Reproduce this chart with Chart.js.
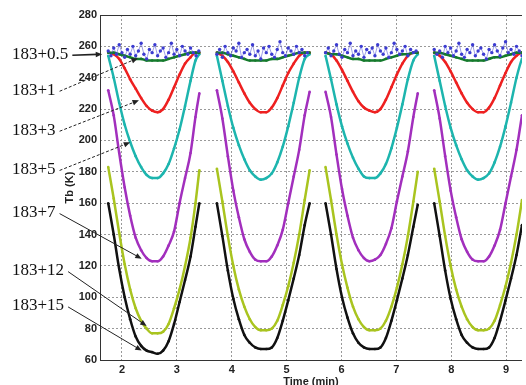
<!DOCTYPE html>
<html>
<head>
<meta charset="utf-8">
<script src="https://cdn.jsdelivr.net/npm/chart.js@4.4.0/dist/chart.umd.min.js"></script>
<style>
  html, body { margin: 0; padding: 0; background: #fff; }
  #wrap { width: 526px; height: 385px; position: relative; }
</style>
</head>
<body>
<div id="wrap"><canvas id="tbChart"></canvas></div>
<script>
// Tiempos de muestreo (min) de los cuatro barridos
const scanTimes = [
  [1.75, 1.85, 1.95, 2.05, 2.15, 2.25, 2.35, 2.45, 2.55, 2.65, 2.75, 2.85, 2.95, 3.05, 3.15, 3.25, 3.34, 3.41],
  [3.73, 3.83, 3.93, 4.03, 4.13, 4.23, 4.33, 4.43, 4.53, 4.63, 4.73, 4.83, 4.93, 5.03, 5.13, 5.23, 5.33, 5.42],
  [5.71, 5.81, 5.91, 6.01, 6.11, 6.21, 6.31, 6.41, 6.51, 6.61, 6.71, 6.81, 6.91, 7.01, 7.11, 7.21, 7.31, 7.39],
  [7.69, 7.79, 7.89, 7.99, 8.09, 8.19, 8.29, 8.39, 8.49, 8.59, 8.69, 8.79, 8.89, 8.99, 9.09, 9.19, 9.29, 9.37]
];
// Tiempos más densos para el canal ruidoso 183+0.5
const noisyTimes = [
  [1.75, 1.80, 1.85, 1.90, 1.95, 2.00, 2.05, 2.10, 2.15, 2.20, 2.25, 2.30, 2.35, 2.40, 2.45, 2.50, 2.55, 2.60, 2.65, 2.70, 2.75, 2.80, 2.85, 2.90, 2.95, 3.00, 3.05, 3.10, 3.15, 3.20, 3.25, 3.30, 3.35, 3.40],
  [3.73, 3.78, 3.83, 3.88, 3.93, 3.98, 4.03, 4.08, 4.13, 4.18, 4.23, 4.28, 4.33, 4.38, 4.43, 4.48, 4.53, 4.58, 4.63, 4.68, 4.73, 4.78, 4.83, 4.88, 4.93, 4.98, 5.03, 5.08, 5.13, 5.18, 5.23, 5.28, 5.33, 5.38],
  [5.71, 5.76, 5.81, 5.86, 5.91, 5.96, 6.01, 6.06, 6.11, 6.16, 6.21, 6.26, 6.31, 6.36, 6.41, 6.46, 6.51, 6.56, 6.61, 6.66, 6.71, 6.76, 6.81, 6.86, 6.91, 6.96, 7.01, 7.06, 7.11, 7.16, 7.21, 7.26, 7.31, 7.36],
  [7.69, 7.74, 7.79, 7.84, 7.89, 7.94, 7.99, 8.04, 8.09, 8.14, 8.19, 8.24, 8.29, 8.34, 8.39, 8.44, 8.49, 8.54, 8.59, 8.64, 8.69, 8.74, 8.79, 8.84, 8.89, 8.94, 8.99, 9.04, 9.09, 9.14, 9.19, 9.24, 9.29, 9.34]
];

// Temperaturas de brillo (K) por canal y barrido
const tb05 = [
  [257, 254, 259, 255, 261, 256, 253, 258, 255, 260, 254, 257, 262, 255, 252, 258, 256, 261, 254, 257, 259, 253, 256, 262, 255, 258, 254, 260, 257, 255, 259, 256, 254, 257],
  [255, 258, 253, 260, 256, 254, 259, 257, 262, 253, 256, 258, 255, 261, 254, 257, 252, 259, 256, 260, 255, 253, 258, 263, 256, 254, 259, 257, 255, 260, 256, 258, 254, 256],
  [256, 259, 254, 257, 261, 255, 253, 258, 256, 262, 254, 257, 255, 260, 253, 258, 256, 259, 254, 261, 257, 255, 259, 253, 256, 262, 258, 255, 257, 260, 254, 258, 256, 257],
  [258, 255, 257, 253, 260, 256, 259, 254, 257, 262, 255, 253, 258, 256, 261, 254, 257, 259, 255, 252, 258, 256, 261, 257, 254, 259, 263, 256, 258, 255, 260, 257, 254, 256]
];
const tb1 = [
  [256, 256, 255, 254, 253, 252, 252, 251, 251, 251, 251, 252, 253, 254, 255, 256, 256, 256],
  [256, 256, 255, 254, 253, 252, 251, 251, 251, 251, 252, 252, 253, 254, 255, 256, 256, 256],
  [256, 255, 255, 254, 253, 252, 252, 251, 251, 251, 251, 252, 253, 254, 255, 255, 256, 256],
  [256, 256, 255, 254, 253, 252, 251, 251, 251, 251, 252, 253, 253, 254, 255, 256, 256, 256]
];
const tb3 = [
  [256, 255, 252, 246, 239, 233, 227, 222, 219, 218, 220, 226, 234, 242, 249, 253, 256, 256],
  [256, 254, 250, 244, 237, 230, 224, 220, 218, 218, 221, 227, 235, 243, 249, 254, 256, 256],
  [256, 255, 251, 245, 238, 231, 225, 221, 219, 218, 220, 226, 234, 242, 249, 254, 256, 256],
  [256, 254, 250, 244, 237, 230, 224, 220, 218, 218, 221, 227, 235, 243, 250, 254, 256, 256]
];
const tb5 = [
  [254, 240, 224, 210, 199, 190, 183, 178, 176, 176, 179, 185, 195, 207, 222, 238, 251, 255],
  [254, 238, 222, 208, 197, 188, 181, 177, 175, 176, 179, 186, 196, 209, 224, 240, 252, 255],
  [254, 239, 223, 209, 198, 189, 182, 177, 176, 176, 179, 185, 195, 208, 223, 239, 251, 255],
  [254, 238, 222, 208, 197, 188, 181, 177, 175, 176, 179, 186, 196, 209, 224, 240, 252, 255]
];
const tb7 = [
  [232, 216, 192, 170, 152, 138, 130, 125, 123, 123, 126, 133, 142, 160, 176, 192, 215, 230],
  [232, 214, 190, 168, 151, 137, 129, 124, 123, 123, 126, 133, 143, 160, 177, 194, 216, 231],
  [231, 215, 191, 169, 152, 138, 130, 125, 123, 124, 127, 134, 144, 161, 177, 193, 215, 230],
  [232, 214, 190, 168, 151, 137, 129, 124, 123, 123, 126, 133, 143, 160, 177, 194, 216, 231]
];
const tb12 = [
  [183, 163, 141, 121, 105, 93, 85, 80, 77, 77, 78, 83, 93, 105, 120, 138, 160, 181],
  [182, 161, 139, 120, 105, 94, 86, 81, 79, 79, 80, 85, 95, 107, 122, 140, 162, 181],
  [183, 162, 140, 121, 106, 94, 86, 81, 79, 79, 80, 85, 94, 106, 121, 139, 161, 180],
  [182, 161, 139, 120, 105, 94, 86, 81, 79, 79, 80, 85, 95, 107, 122, 140, 162, 181]
];
const tb15 = [
  [160, 140, 118, 100, 86, 75, 69, 66, 65, 64, 66, 72, 83, 97, 111, 126, 145, 160],
  [160, 139, 117, 99, 86, 76, 71, 68, 67, 67, 68, 74, 85, 98, 112, 127, 146, 160],
  [160, 140, 118, 100, 87, 77, 71, 68, 67, 67, 68, 74, 85, 98, 112, 127, 145, 159],
  [160, 139, 117, 99, 86, 76, 71, 68, 67, 67, 68, 74, 85, 98, 112, 127, 146, 160]
];

const xTicks = [2, 3, 4, 5, 6, 7, 8, 9];
const yTicks = [60, 80, 100, 120, 140, 160, 180, 200, 220, 240, 260, 280];

// Etiquetas de canal y hacia dónde apunta cada flecha (en unidades de datos)
const channelNames = ['183+0.5', '183+1', '183+3', '183+5', '183+7', '183+12', '183+15'];
const labelLevel = [255, 232, 206.5, 181.5, 154, 117, 94.5];
const arrowTipTime = [1.64, 2.29, 2.31, 2.15, 2.36, 2.45, 2.36];
const arrowTipTb = [255, 252.5, 225.6, 198.8, 124.6, 81.7, 66];
const arrowKind = ['solid', 'dash', 'dash', 'dash', 'thin', 'thin', 'thin'];

// Une los barridos en una sola serie, cortando la línea entre barridos
function joinScans(times, values) {
    const pts = [];
    times.forEach((seg, s) => {
        if (s > 0) pts.push({ x: seg[0], y: null });
        seg.forEach((t, i) => pts.push({ x: t, y: values[s][i] }));
    });
    return pts;
}

function lineSet(values, color) {
    return {
        data: joinScans(scanTimes, values),
        borderColor: color,
        backgroundColor: color,
        borderWidth: 2.5,
        pointRadius: 1.3,
        pointBorderWidth: 0,
        cubicInterpolationMode: 'monotone',
        spanGaps: false
    };
}

const tickFont = { family: '"Liberation Sans", Arial, sans-serif', size: 11, weight: 'bold' };

// Dibuja ejes, etiquetas de canal y flechas
const annotatePlugin = {
    id: 'annotate',
    afterDraw(chart) {
        const ctx = chart.ctx;
        const area = chart.chartArea;
        const xs = chart.scales.x, ys = chart.scales.y;

        ctx.save();
        ctx.strokeStyle = '#333';
        ctx.lineWidth = 1;
        ctx.beginPath();
        ctx.moveTo(area.left + 0.5, area.top);
        ctx.lineTo(area.left + 0.5, area.bottom);
        ctx.moveTo(area.left, area.bottom + 0.5);
        ctx.lineTo(area.right, area.bottom + 0.5);
        ctx.moveTo(area.left, area.top + 0.5);
        ctx.lineTo(area.right, area.top + 0.5);
        ctx.stroke();

        ctx.font = '17px "Liberation Serif", "Times New Roman", serif';
        ctx.textBaseline = 'middle';
        ctx.textAlign = 'left';
        ctx.fillStyle = '#111';
        channelNames.forEach((name, i) => {
            const ly = ys.getPixelForValue(labelLevel[i]);
            const lx = 12;
            ctx.fillText(name, lx, ly);
            const x0 = lx + ctx.measureText(name).width + 4;
            const x1 = xs.getPixelForValue(arrowTipTime[i]);
            const y1 = ys.getPixelForValue(arrowTipTb[i]);
            drawArrow(ctx, x0, ly + 1, x1, y1, arrowKind[i]);
        });
        ctx.restore();
    }
};

function drawArrow(ctx, x0, y0, x1, y1, kind) {
    const ang = Math.atan2(y1 - y0, x1 - x0);
    const head = 7;
    ctx.save();
    ctx.strokeStyle = '#222';
    ctx.fillStyle = '#222';
    ctx.lineWidth = kind === 'solid' ? 1.6 : 1;
    ctx.setLineDash(kind === 'dash' ? [3, 2] : []);
    ctx.beginPath();
    ctx.moveTo(x0, y0);
    ctx.lineTo(x1 - head * 0.7 * Math.cos(ang), y1 - head * 0.7 * Math.sin(ang));
    ctx.stroke();
    ctx.setLineDash([]);
    ctx.beginPath();
    ctx.moveTo(x1, y1);
    ctx.lineTo(x1 - head * Math.cos(ang - 0.4), y1 - head * Math.sin(ang - 0.4));
    ctx.lineTo(x1 - head * Math.cos(ang + 0.4), y1 - head * Math.sin(ang + 0.4));
    ctx.closePath();
    ctx.fill();
    ctx.restore();
}

window.addEventListener('load', () => {
    const datasets = [
        {
            data: joinScans(noisyTimes, tb05),
            borderColor: 'rgba(59, 59, 208, 0.7)',
            backgroundColor: '#3b3bd0',
            borderWidth: 0.7,
            pointRadius: 1.7,
            pointBorderWidth: 0,
            spanGaps: false
        },
        lineSet(tb1, '#157a2c'),
        lineSet(tb3, '#ee2020'),
        lineSet(tb5, '#1db5ae'),
        lineSet(tb7, '#a22fbd'),
        lineSet(tb12, '#a9c41f'),
        lineSet(tb15, '#111111')
    ];

    new Chart(document.getElementById('tbChart').getContext('2d'), {
        type: 'line',
        data: { datasets: datasets },
        options: {
            animation: false,
            responsive: true,
            maintainAspectRatio: false,
            layout: { padding: { left: 55, top: 15, right: 0, bottom: 0 } },
            plugins: { legend: { display: false }, tooltip: { enabled: false } },
            scales: {
                x: {
                    type: 'linear',
                    min: 1.6,
                    max: 9.29,
                    afterBuildTicks: s => { s.ticks = xTicks.map(v => ({ value: v })); },
                    afterFit: s => { s.height = 25; },
                    ticks: { font: tickFont, color: '#222', padding: 3, maxRotation: 0 },
                    grid: { color: '#999', drawTicks: false },
                    border: { display: false, dash: [2, 2] },
                    title: { display: true, text: 'Time (min)', font: tickFont, color: '#222', padding: { top: 0, bottom: -4 } }
                },
                y: {
                    min: 60,
                    max: 280,
                    afterBuildTicks: s => { s.ticks = yTicks.map(v => ({ value: v })); },
                    afterFit: s => { s.width = 45; },
                    ticks: { font: tickFont, color: '#222', padding: 3 },
                    grid: { color: '#999', drawTicks: false },
                    border: { display: false, dash: [2, 2] },
                    title: { display: true, text: 'Tb (K)', font: tickFont, color: '#222', padding: { top: 8, bottom: 0 } }
                }
            }
        },
        plugins: [annotatePlugin]
    });
});
</script>
</body>
</html>
